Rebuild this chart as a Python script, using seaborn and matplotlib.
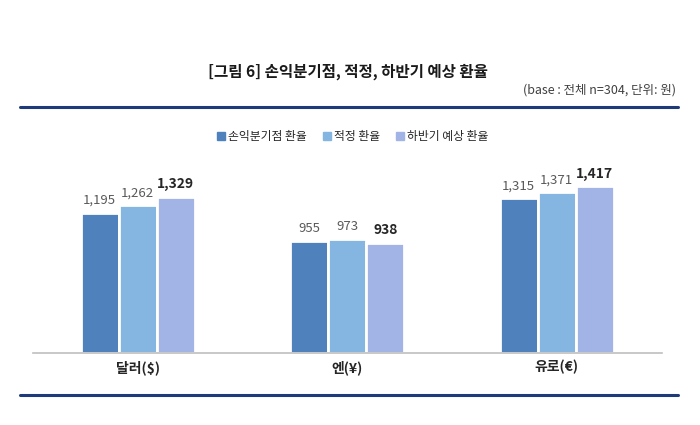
import matplotlib
matplotlib.use("Agg")
import matplotlib.pyplot as plt
import seaborn as sns
import pandas as pd
from matplotlib.lines import Line2D

categories = ["달러($)", "엔(¥)", "유로(€)"]
series = ["손익분기점 환율", "적정 환율", "하반기 예상 환율"]
breakeven = [1195, 955, 1315]
proper = [1262, 973, 1371]
expected = [1329, 938, 1417]
colors = ["#4F81BD", "#85B5E1", "#A2B4E5"]

sns.set_theme(style="white")
plt.rcParams['font.family'] = ['Noto Sans CJK KR', 'DejaVu Sans']

rows = []
for s, vals in zip(series, [breakeven, proper, expected]):
    for c, v in zip(categories, vals):
        rows.append({"cat": c, "series": s, "value": v})
df = pd.DataFrame(rows)

fig = plt.figure(figsize=(7, 4.25), dpi=100)
ax = fig.add_axes([0.047, 0.1694, 0.898, 0.4424])
sns.barplot(data=df, x="cat", y="value", hue="series", order=categories,
            hue_order=series, palette=colors, width=0.545, saturation=1,
            edgecolor="white", linewidth=2.0, ax=ax, legend=False)
ax.set_ylim(0, 1600)
ax.set_xlim(-0.5, 2.5)
ax.set_yticks([])
ax.set_xlabel("")
ax.set_ylabel("")
for sp in ["top", "right", "left"]:
    ax.spines[sp].set_visible(False)
ax.spines["bottom"].set_color("#BFBFBF")
ax.spines["bottom"].set_linewidth(1.2)
ax.spines["bottom"].set_zorder(5)
ax.tick_params(axis="x", length=0, pad=5)
for t in ax.get_xticklabels():
    t.set_fontweight("bold")
    t.set_fontsize(10)
    t.set_color("#262626")

for i, cont in enumerate(ax.containers):
    ax.bar_label(cont, labels=[f"{v:,.0f}" for v in cont.datavalues], padding=4,
                 fontsize=10 if i == 2 else 9.5,
                 fontweight="bold" if i == 2 else "normal",
                 color="#262626" if i == 2 else "#595959")

handles = [Line2D([0], [0], marker="s", linestyle="", markersize=6,
                  markerfacecolor=c, markeredgecolor=c) for c in colors]
fig.legend(handles, series, loc="center", bbox_to_anchor=(0.503, 0.678), ncol=3,
           frameon=False, fontsize=8.5, handletextpad=0.1, columnspacing=1.2,
           handlelength=1.0)

fig.text(0.497, 0.832, "[그림 6] 손익분기점, 적정, 하반기 예상 환율", ha="center", va="center",
         fontsize=11.2, fontweight="bold", color="#1a1a1a")
fig.text(0.966, 0.788, "(base : 전체 n=304, 단위: 원)", ha="right", va="center",
         fontsize=9, color="#404040")
fig.add_artist(Line2D([0.029, 0.969], [0.749, 0.749], color="#1F3A7A", linewidth=2.2))
fig.add_artist(Line2D([0.029, 0.969], [0.071, 0.071], color="#1F3A7A", linewidth=2.2))

fig.savefig("out.png", dpi=100)
